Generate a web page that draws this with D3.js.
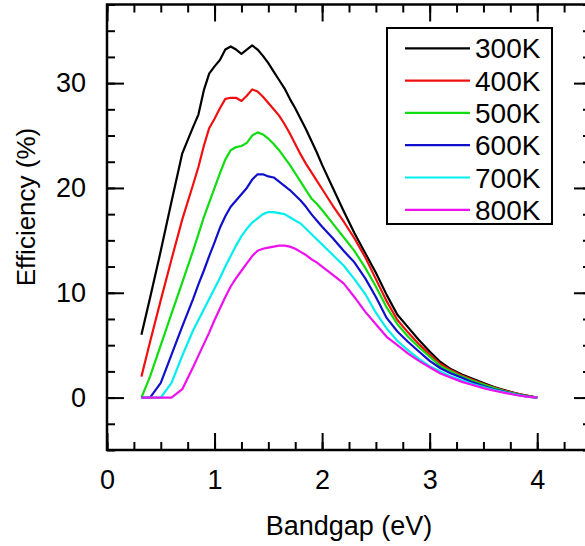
<!DOCTYPE html>
<html>
<head>
<meta charset="utf-8">
<script src="https://cdn.jsdelivr.net/npm/d3@7"></script>
<style>
  body { margin: 0; background: #fff; }
  svg text { font-family: "Liberation Sans", Arial, sans-serif; fill: #000; }
</style>
</head>
<body>
<div id="chart"></div>
<script>
// bandgap grid (eV) shared by all curves
var bandgap = [0.32, 0.4, 0.5, 0.6, 0.7, 0.8, 0.85, 0.9, 0.95, 1.0, 1.05, 1.1, 1.15, 1.2, 1.25, 1.3, 1.35, 1.4, 1.45, 1.5,
    1.55, 1.6, 1.65, 1.7, 1.75, 1.8, 1.85, 1.9, 1.95, 2.0, 2.1, 2.2, 2.3, 2.4, 2.5, 2.6, 2.7, 2.8, 2.9, 3.0,
    3.1, 3.2, 3.3, 3.4, 3.5, 3.6, 3.7, 3.8, 3.9, 4.0];

// efficiency (%) per temperature
var eff300 = [6.0, 9.5, 14.0, 18.7, 23.3, 25.8, 27.0, 29.3, 30.9, 31.6, 32.2, 33.2, 33.5, 33.2, 32.8, 33.2, 33.6, 33.2, 32.6, 31.9,
    31.1, 30.3, 29.5, 28.5, 27.6, 26.6, 25.6, 24.5, 23.4, 22.2, 20.0, 17.8, 15.7, 13.8, 11.9, 9.8, 7.9, 6.7, 5.5, 4.4,
    3.4, 2.7, 2.2, 1.8, 1.4, 1.0, 0.7, 0.4, 0.2, 0.0];
var eff400 = [2.0, 5.3, 9.3, 13.2, 17.0, 20.3, 22.0, 24.0, 25.7, 26.6, 27.6, 28.5, 28.6, 28.6, 28.3, 28.8, 29.4, 29.2, 28.7, 28.1,
    27.5, 26.9, 26.1, 25.2, 24.2, 23.2, 22.3, 21.5, 20.7, 19.9, 18.3, 16.8, 15.2, 13.4, 11.3, 9.2, 7.4, 6.2, 5.1, 4.1,
    3.2, 2.6, 2.1, 1.7, 1.3, 0.95, 0.65, 0.4, 0.18, 0.0];
var eff500 = [0.0, 2.0, 5.0, 8.0, 11.0, 14.0, 15.6, 17.2, 18.6, 20.0, 21.4, 22.7, 23.6, 23.9, 24.0, 24.3, 25.0, 25.3, 25.1, 24.7,
    24.2, 23.6, 22.9, 22.2, 21.4, 20.6, 19.8, 19.0, 18.5, 17.9, 16.6, 15.3, 14.0, 12.4, 10.6, 8.6, 7.0, 5.8, 4.8, 3.9,
    3.0, 2.5, 2.0, 1.6, 1.25, 0.9, 0.6, 0.35, 0.15, 0.0];
var eff600 = [0.0, 0.0, 1.4, 4.1, 6.8, 9.4, 10.8, 12.1, 13.5, 14.8, 16.2, 17.3, 18.2, 18.8, 19.4, 20.0, 20.8, 21.3, 21.3, 21.1,
    21.0, 20.6, 20.2, 19.8, 19.3, 18.8, 18.2, 17.5, 16.9, 16.3, 15.2, 14.0, 12.9, 11.4, 9.6, 7.6, 6.3, 5.3, 4.4, 3.5,
    2.8, 2.3, 1.9, 1.45, 1.1, 0.8, 0.55, 0.3, 0.12, 0.0];
var eff700 = [0.0, 0.0, 0.0, 1.4, 4.0, 6.4, 7.4, 8.4, 9.4, 10.4, 11.4, 12.5, 13.5, 14.5, 15.4, 16.1, 16.7, 17.1, 17.5, 17.7,
    17.7, 17.6, 17.5, 17.2, 16.9, 16.6, 16.1, 15.6, 15.1, 14.6, 13.6, 12.6, 11.3, 9.9, 8.1, 6.6, 5.4, 4.5, 3.7, 3.0,
    2.5, 2.0, 1.65, 1.3, 1.0, 0.72, 0.5, 0.28, 0.1, 0.0];
var eff800 = [0.0, 0.0, 0.0, 0.0, 0.8, 2.9, 4.0, 5.1, 6.2, 7.4, 8.5, 9.6, 10.6, 11.4, 12.1, 12.8, 13.5, 14.0, 14.2, 14.3,
    14.4, 14.5, 14.5, 14.4, 14.2, 13.9, 13.6, 13.2, 12.9, 12.5, 11.7, 10.9, 9.6, 8.2, 7.0, 5.8, 5.0, 4.2, 3.5, 2.9,
    2.3, 1.9, 1.5, 1.2, 0.9, 0.65, 0.45, 0.25, 0.1, 0.0];

var seriesNames = ["300K", "400K", "500K", "600K", "700K", "800K"];
var seriesValues = [eff300, eff400, eff500, eff600, eff700, eff800];
var seriesColors = ["#000000", "#f01010", "#10dd10", "#1010cc", "#00eeee", "#ee10ee"];

var xMajor = [0, 1, 2, 3, 4];
var yMajor = [0, 10, 20, 30];

efficiency_graph()

function efficiency_graph() {
    var width = 585, height = 546;
    var margin = { left: 107, right: 591, top: 4.5, bottom: 450 };

    var x = d3.scaleLinear().domain([0, 4.5]).range([margin.left, margin.right]);
    var y = d3.scaleLinear().domain([-5, 37.5]).range([margin.bottom, margin.top]);

    var xMinor = d3.range(0, 4.5001, 0.25);
    var yMinor = d3.range(-5, 37.5001, 2.5);

    var svg = d3.select("#chart").append("svg")
        .attr("width", width)
        .attr("height", height);

    // ticks on all four sides, pointing inward
    function tickAxis(axis, ticks, size, tr) {
        svg.append("g")
            .attr("transform", tr)
            .call(axis.tickValues(ticks).tickSizeInner(size).tickSizeOuter(0).tickFormat(""))
            .call(function (g) { g.select(".domain").remove(); })
            .selectAll("line").attr("stroke", "#000").attr("stroke-width", 2);
    }
    tickAxis(d3.axisBottom(x), xMinor, 8, "translate(0," + margin.top + ")");
    tickAxis(d3.axisTop(x), xMinor, 8, "translate(0," + margin.bottom + ")");
    tickAxis(d3.axisRight(y), yMinor, 8, "translate(" + margin.left + ",0)");
    tickAxis(d3.axisLeft(y), yMinor, 8, "translate(" + margin.right + ",0)");
    tickAxis(d3.axisBottom(x), xMajor, 17, "translate(0," + margin.top + ")");
    tickAxis(d3.axisTop(x), xMajor, 17, "translate(0," + margin.bottom + ")");
    tickAxis(d3.axisRight(y), yMajor, 17, "translate(" + margin.left + ",0)");
    tickAxis(d3.axisLeft(y), yMajor, 17, "translate(" + margin.right + ",0)");

    // tick labels
    var xLabels = svg.append("g")
        .attr("transform", "translate(0," + margin.bottom + ")")
        .call(d3.axisBottom(x).tickValues(xMajor).tickSize(0).tickPadding(20).tickFormat(d3.format("d")));
    xLabels.select(".domain").remove();
    xLabels.selectAll("text").style("font-size", "27px").attr("font-family", null);

    var yLabels = svg.append("g")
        .attr("transform", "translate(" + margin.left + ",0)")
        .call(d3.axisLeft(y).tickValues(yMajor).tickSize(0).tickPadding(21).tickFormat(d3.format("d")));
    yLabels.select(".domain").remove();
    yLabels.selectAll("text").style("font-size", "27px").attr("font-family", null);

    // frame
    svg.append("rect")
        .attr("x", margin.left).attr("y", margin.top)
        .attr("width", margin.right - margin.left).attr("height", margin.bottom - margin.top)
        .attr("fill", "none").attr("stroke", "#000").attr("stroke-width", 2.5);

    // curves
    var line = d3.line()
        .x(function (d, i) { return x(bandgap[i]); })
        .y(function (d) { return y(d); });

    svg.selectAll(".curve")
        .data(seriesValues)
        .enter().append("path")
        .attr("class", "curve")
        .attr("d", line)
        .attr("fill", "none")
        .attr("stroke", function (d, i) { return seriesColors[i]; })
        .attr("stroke-width", 2.2)
        .attr("stroke-linejoin", "round");

    // axis titles
    svg.append("text")
        .attr("x", (margin.left + margin.right) / 2)
        .attr("y", 535)
        .attr("text-anchor", "middle")
        .style("font-size", "27px")
        .text("Bandgap (eV)");

    svg.append("text")
        .attr("transform", "translate(35,207)rotate(-90)")
        .attr("text-anchor", "middle")
        .style("font-size", "26px")
        .text("Efficiency (%)");

    // legend
    var legend = svg.append("g");
    legend.append("rect")
        .attr("x", 387).attr("y", 28)
        .attr("width", 165).attr("height", 196)
        .attr("fill", "#fff").attr("stroke", "#000").attr("stroke-width", 2);

    var item = legend.selectAll(".item")
        .data(seriesNames)
        .enter().append("g")
        .attr("class", "item")
        .attr("transform", function (d, i) { return "translate(0," + (48.3 + i * 32.3) + ")"; });

    item.append("line")
        .attr("x1", 405).attr("x2", 470)
        .attr("stroke", function (d, i) { return seriesColors[i]; })
        .attr("stroke-width", 2.2);

    item.append("text")
        .attr("x", 475)
        .attr("dy", "0.36em")
        .style("font-size", "28px")
        .text(function (d) { return d; });
}
</script>
</body>
</html>
